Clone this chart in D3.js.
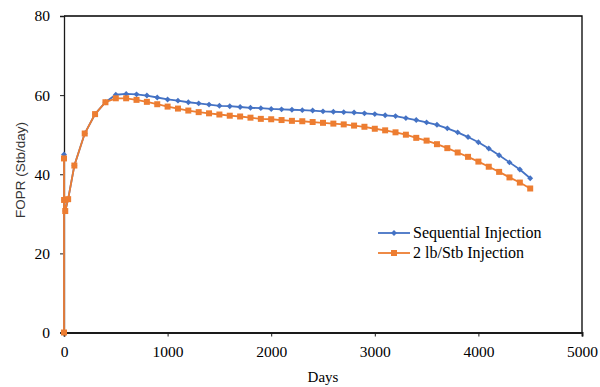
<!DOCTYPE html>
<html>
<head>
<meta charset="utf-8">
<script src="https://cdn.jsdelivr.net/npm/d3@7"></script>
<style>
  body { margin: 0; background: #fff; }
  svg { display: block; }
</style>
</head>
<body>
<svg id="chart"></svg>
<script>
// days and rates
const daysEarly = [0, 0, 1, 12, 40, 100, 200, 300, 400];
const seqEarly = [0, 45.0, 33.5, 30.7, 33.7, 42.2, 50.3, 55.2, 58.2];
const lbEarly = [0, 44.0, 33.5, 30.7, 33.7, 42.2, 50.3, 55.2, 58.2];

const daysLate = d3.range(500, 4501, 100);
const seqLate = [60.1, 60.3, 60.2, 59.9, 59.4, 58.9, 58.6, 58.2, 57.9, 57.6, 57.3, 57.2,
  57.0, 56.8, 56.7, 56.5, 56.4, 56.3, 56.2, 56.1, 55.9, 55.8, 55.7,
  55.6, 55.4, 55.2, 54.9, 54.7, 54.2, 53.7, 53.1, 52.5, 51.6, 50.6, 49.4, 48.1,
  46.5, 44.8, 43.0, 41.2, 39.0];
const lbLate = [59.2, 59.2, 58.8, 58.3, 57.7, 57.1, 56.6, 56.1, 55.7, 55.4, 55.1, 54.8,
  54.6, 54.3, 54.0, 53.9, 53.7, 53.5, 53.4, 53.2, 53.0, 52.8, 52.6,
  52.3, 52.0, 51.5, 51.1, 50.6, 50.0, 49.2, 48.5, 47.6, 46.6, 45.5, 44.4, 43.2,
  41.9, 40.6, 39.2, 37.9, 36.4];

const xTicks = [0, 1000, 2000, 3000, 4000, 5000];
const yTicks = [0, 20, 40, 60, 80];
const seriesNames = ['Sequential Injection', '2 lb/Stb Injection'];

const days = daysEarly.concat(daysLate);
const series = [
  { name: seriesNames[0], color: '#4472C4', shape: 'diamond', values: seqEarly.concat(seqLate) },
  { name: seriesNames[1], color: '#ED7D31', shape: 'square', values: lbEarly.concat(lbLate) }
];

const width = 600, height = 387;
const margin = { top: 16, right: 18, bottom: 54.5, left: 64 };

const svg = d3.select('#chart').attr('width', width).attr('height', height);

const x = d3.scaleLinear().domain([0, 5000]).range([margin.left, width - margin.right]);
const y = d3.scaleLinear().domain([0, 80]).range([height - margin.bottom, margin.top]);

const serif = '"Liberation Serif", "Times New Roman", serif';

// plot border (top and right)
svg.append('path')
  .attr('d', `M${x(0)},${y(80)}H${x(5000)}V${y(0)}`)
  .attr('fill', 'none')
  .attr('stroke', '#000')
  .attr('stroke-width', 1.3);

// axes
const xAxis = svg.append('g')
  .attr('transform', `translate(0,${y(0)})`)
  .call(d3.axisBottom(x).tickValues(xTicks).tickSize(4).tickPadding(9).tickFormat(d3.format('d')));
const yAxis = svg.append('g')
  .attr('transform', `translate(${x(0)},0)`)
  .call(d3.axisLeft(y).tickValues(yTicks).tickSize(4).tickPadding(10));

[xAxis, yAxis].forEach(g => {
  g.select('.domain').attr('stroke', '#1a1a1a').attr('stroke-width', 2);
  g.selectAll('.tick line').attr('stroke', '#1a1a1a');
  g.selectAll('.tick text')
    .attr('font-family', serif)
    .attr('font-size', 15.5)
    .attr('fill', '#000');
});
yAxis.select('.domain').attr('stroke-width', 1.3);

// series
const line = d3.line()
  .x((d, i) => x(days[i]))
  .y(d => y(d));

const symbolFor = s => s.shape === 'diamond'
  ? d3.symbol().type(d3.symbolDiamond2).size(22)
  : d3.symbol().type(d3.symbolSquare).size(36);

series.forEach(s => {
  const g = svg.append('g');
  g.append('path')
    .datum(s.values)
    .attr('fill', 'none')
    .attr('stroke', s.color)
    .attr('stroke-width', 1.8)
    .attr('d', line);
  g.selectAll('path.pt')
    .data(s.values)
    .join('path')
    .attr('class', 'pt')
    .attr('transform', (d, i) => `translate(${x(days[i])},${y(d)})`)
    .attr('d', symbolFor(s))
    .attr('fill', s.color);
});

// legend
const legend = svg.append('g').attr('transform', 'translate(378,233)');
series.forEach((s, i) => {
  const row = legend.append('g').attr('transform', `translate(0,${i * 20})`);
  row.append('line')
    .attr('x1', 0).attr('x2', 32)
    .attr('stroke', s.color).attr('stroke-width', 1.8);
  row.append('path')
    .attr('transform', 'translate(16,0)')
    .attr('d', symbolFor(s))
    .attr('fill', s.color);
  row.append('text')
    .attr('x', 35).attr('y', 5)
    .attr('font-family', serif)
    .attr('font-size', 16)
    .text(s.name);
});

// axis titles
svg.append('text')
  .attr('x', x(2500)).attr('y', 382)
  .attr('text-anchor', 'middle')
  .attr('font-family', serif)
  .attr('font-size', 15)
  .text('Days');

svg.append('text')
  .attr('transform', 'translate(25,170) rotate(-90)')
  .attr('text-anchor', 'middle')
  .attr('font-family', '"Liberation Sans", Arial, sans-serif')
  .attr('font-size', 13.5)
  .attr('fill', '#333')
  .text('FOPR (Stb/day)');
</script>
</body>
</html>
